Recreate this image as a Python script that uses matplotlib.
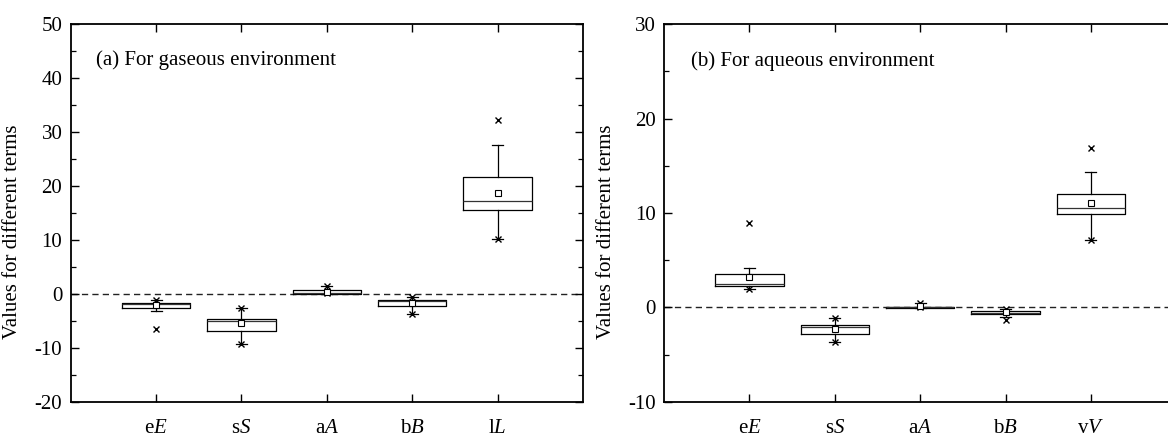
import matplotlib
matplotlib.use("Agg")
import matplotlib.pyplot as plt
from matplotlib.ticker import MultipleLocator

plt.rcParams['font.family'] = ['Liberation Serif', 'DejaVu Serif']
plt.rcParams['mathtext.fontset'] = 'custom'
plt.rcParams['mathtext.rm'] = 'Liberation Serif'
plt.rcParams['mathtext.it'] = 'Liberation Serif:italic'
plt.rcParams['axes.unicode_minus'] = False

# ---- data: panel (a) gaseous ----
cats_a = ['e$\\mathit{E}$', 's$\\mathit{S}$', 'a$\\mathit{A}$', 'b$\\mathit{B}$', 'l$\\mathit{L}$']
q1_a = [-2.67, -6.87, 0.0, -2.23, 15.5]
med_a = [-1.85, -5.0, 0.15, -1.3, 17.3]
q3_a = [-1.67, -4.59, 0.74, -1.11, 21.6]
mean_a = [-2.1, -5.39, 0.41, -1.73, 18.8]
wlo_a = [-3.1, -9.29, 0.0, -3.66, 10.2]
whi_a = [-1.2, -2.67, 1.54, -0.56, 27.7]
out_a = [[-1.2, -6.5], [-2.67, -9.29], [1.54, 0.1], [-0.56, -3.66], [32.3, 10.2]]

# ---- data: panel (b) aqueous ----
cats_b = ['e$\\mathit{E}$', 's$\\mathit{S}$', 'a$\\mathit{A}$', 'b$\\mathit{B}$', 'v$\\mathit{V}$']
q1_b = [2.22, -2.83, -0.08, -0.74, 9.85]
med_b = [2.5, -2.08, 0.0, -0.55, 10.5]
q3_b = [3.55, -1.87, 0.05, -0.39, 11.97]
mean_b = [3.2, -2.26, 0.1, -0.5, 11.1]
wlo_b = [1.94, -3.71, -0.08, -1.0, 7.1]
whi_b = [4.2, -1.17, 0.46, -0.14, 14.3]
out_b = [[8.9, 1.94], [-1.17, -3.71], [0.46, 0.0], [-0.14, -1.3], [16.9, 7.1]]

FS = 15

fig = plt.figure(figsize=(11.68, 4.36), dpi=100)
ax1 = fig.add_axes([70.7 / 1168, 34.3 / 436, 512.3 / 1168, 377.4 / 436])
ax2 = fig.add_axes([664 / 1168, 34.3 / 436, 512.3 / 1168, 377.4 / 436])


def draw(ax, cats, q1, med, q3, mean, wlo, whi, outs, ylim, title, tx, ty):
    stats = []
    for i in range(len(cats)):
        stats.append(dict(q1=q1[i], med=med[i], q3=q3[i], mean=mean[i],
                          whislo=wlo[i], whishi=whi[i], fliers=outs[i]))
    pos = list(range(1, len(cats) + 1))
    ax.bxp(stats, positions=pos, widths=0.8, capwidths=0.13, showmeans=True,
           showfliers=True, manage_ticks=False,
           boxprops=dict(color='black', linewidth=0.9),
           medianprops=dict(color='#333333', linewidth=0.9),
           whiskerprops=dict(color='black', linewidth=0.9),
           capprops=dict(color='black', linewidth=0.9),
           meanprops=dict(marker='s', markersize=4.5, markerfacecolor='white',
                          markeredgecolor='black', markeredgewidth=0.8),
           flierprops=dict(marker='x', markersize=5, markeredgecolor='black',
                           markeredgewidth=1.0, linestyle='none'))
    ax.axhline(0, color='#222222', linestyle=(0, (4.5, 3)), linewidth=1.0, zorder=0.5)
    ax.set_xlim(0, 6)
    ax.set_ylim(*ylim)
    ax.set_xticks(pos)
    ax.set_xticklabels(cats, fontsize=FS)
    ax.yaxis.set_major_locator(MultipleLocator(10))
    ax.yaxis.set_minor_locator(MultipleLocator(5))
    ax.tick_params(axis='both', which='both', direction='in', top=True, right=True)
    ax.tick_params(axis='y', which='major', length=6, width=1.0, labelsize=FS, pad=6)
    ax.tick_params(axis='y', which='minor', length=3.5, width=0.9)
    ax.tick_params(axis='x', which='major', length=6, width=1.0, labelsize=FS, pad=12.5)
    for s in ax.spines.values():
        s.set_linewidth(1.3)
    ax.set_ylabel('Values for different terms', fontsize=FS)
    ax.text(tx, ty, title, fontsize=FS, ha='left', va='center')


draw(ax1, cats_a, q1_a, med_a, q3_a, mean_a, wlo_a, whi_a, out_a, (-20, 50),
     '(a) For gaseous environment', 0.30, 43.4)
draw(ax2, cats_b, q1_b, med_b, q3_b, mean_b, wlo_b, whi_b, out_b, (-10, 30),
     '(b) For aqueous environment', 0.32, 26.1)
ax1.yaxis.set_label_coords(-0.096, 0.45)
ax2.yaxis.set_label_coords(-0.094, 0.45)

fig.savefig('out.png', dpi=100)
